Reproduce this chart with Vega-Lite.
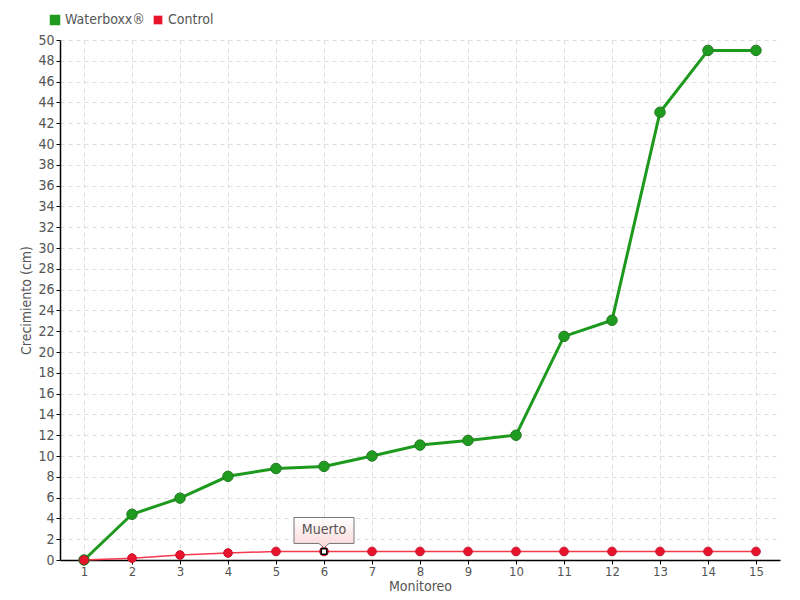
{
  "$schema": "https://vega.github.io/schema/vega-lite/v6.json",
  "width": 720,
  "height": 520,
  "autosize": {"type": "none"},
  "padding": {"left": 60, "top": 40, "right": 20, "bottom": 40},
  "background": "white",
  "config": {
    "font": "DejaVu Sans Condensed, Liberation Sans Narrow, sans-serif",
    "view": {"stroke": null},
    "axis": {
      "labelFontSize": 14,
      "labelColor": "#555555",
      "titleFontSize": 14,
      "titleFontWeight": "normal",
      "titleColor": "#555555",
      "domainColor": "#000000",
      "domainWidth": 1.5,
      "tickColor": "#000000",
      "tickSize": 4,
      "gridColor": "#dddddd",
      "gridDash": [4, 4],
      "gridWidth": 1
    }
  },
  "data": {
    "values": [
      {"m": 1, "serie": "Waterboxx®", "v": 0},
      {"m": 2, "serie": "Waterboxx®", "v": 4.4},
      {"m": 3, "serie": "Waterboxx®", "v": 5.95},
      {"m": 4, "serie": "Waterboxx®", "v": 8.05},
      {"m": 5, "serie": "Waterboxx®", "v": 8.8},
      {"m": 6, "serie": "Waterboxx®", "v": 9.0},
      {"m": 7, "serie": "Waterboxx®", "v": 10.0},
      {"m": 8, "serie": "Waterboxx®", "v": 11.05},
      {"m": 9, "serie": "Waterboxx®", "v": 11.5},
      {"m": 10, "serie": "Waterboxx®", "v": 12.0},
      {"m": 11, "serie": "Waterboxx®", "v": 21.5},
      {"m": 12, "serie": "Waterboxx®", "v": 23.05},
      {"m": 13, "serie": "Waterboxx®", "v": 43.05},
      {"m": 14, "serie": "Waterboxx®", "v": 49.0},
      {"m": 15, "serie": "Waterboxx®", "v": 49.0},
      {"m": 1, "serie": "Control", "v": 0},
      {"m": 2, "serie": "Control", "v": 0.18},
      {"m": 3, "serie": "Control", "v": 0.48},
      {"m": 4, "serie": "Control", "v": 0.67},
      {"m": 5, "serie": "Control", "v": 0.82},
      {"m": 6, "serie": "Control", "v": 0.82, "nota": "Muerto"},
      {"m": 7, "serie": "Control", "v": 0.82},
      {"m": 8, "serie": "Control", "v": 0.82},
      {"m": 9, "serie": "Control", "v": 0.82},
      {"m": 10, "serie": "Control", "v": 0.82},
      {"m": 11, "serie": "Control", "v": 0.82},
      {"m": 12, "serie": "Control", "v": 0.82},
      {"m": 13, "serie": "Control", "v": 0.82},
      {"m": 14, "serie": "Control", "v": 0.82},
      {"m": 15, "serie": "Control", "v": 0.82}
    ]
  },
  "encoding": {
    "x": {
      "field": "m",
      "type": "ordinal",
      "scale": {"type": "point", "padding": 0.5},
      "axis": {"title": "Monitoreo", "labelAngle": 0, "grid": true, "titlePadding": 1, "labelPadding": 1, "labelFontSize": 13}
    },
    "y": {
      "field": "v",
      "type": "quantitative",
      "scale": {"domain": [0, 50], "nice": false},
      "axis": {"title": "Crecimiento (cm)", "values": [0,2,4,6,8,10,12,14,16,18,20,22,24,26,28,30,32,34,36,38,40,42,44,46,48,50], "grid": true, "titlePadding": 4, "labelPadding": 2}
    }
  },
  "layer": [
    {
      "mark": {"type": "line", "strokeWidth": 1.5},
      "transform": [{"filter": "datum.serie == 'Control'"}],
      "encoding": {"color": {"value": "#f5394f"}}
    },
    {
      "mark": {"type": "line", "strokeWidth": 3},
      "transform": [{"filter": "datum.serie == 'Waterboxx®'"}],
      "encoding": {"color": {"value": "#1d9a1d"}}
    },
    {
      "mark": {"type": "point", "filled": true, "shape": "circle", "opacity": 1, "strokeWidth": 1},
      "encoding": {
        "color": {
          "field": "serie",
          "type": "nominal",
          "scale": {"domain": ["Waterboxx®", "Control"], "range": ["#1f9c1f", "#e8142c"]},
          "legend": {
            "title": null,
            "orient": "none",
            "direction": "horizontal",
            "legendX": -12,
            "legendY": -27,
            "symbolType": "square",
            "symbolSize": 30,
            "symbolStrokeWidth": 0,
            "labelFontSize": 14,
            "labelColor": "#555555",
            "columnPadding": 6,
            "symbolOffset": 0,
            "labelOffset": 3
          }
        },
        "size": {
          "field": "serie",
          "type": "nominal",
          "scale": {"domain": ["Waterboxx®", "Control"], "range": [110, 75]},
          "legend": null
        },
        "stroke": {
          "field": "serie",
          "type": "nominal",
          "scale": {"domain": ["Waterboxx®", "Control"], "range": ["#237a23", "#c8102a"]},
          "legend": null
        }
      }
    },
    {
      "mark": {
        "type": "point",
        "filled": true,
        "opacity": 1,
        "shape": "M-1,-1.133 L1,-1.133 L1,-0.267 L0.17,-0.267 L0,-0.12 L-0.17,-0.267 L-1,-0.267 Z",
        "size": 3600,
        "stroke": "#777777",
        "strokeWidth": 1,
        "fill": {
          "gradient": "linear",
          "x1": 0, "y1": 0, "x2": 0, "y2": 1,
          "stops": [{"offset": 0, "color": "#ffffff"}, {"offset": 1, "color": "#fbd6d6"}]
        }
      },
      "transform": [{"filter": "datum.nota"}],
      "encoding": {}
    },
    {
      "mark": {"type": "text", "fontSize": 14, "color": "#555555", "yOffset": -21},
      "transform": [{"filter": "datum.nota"}],
      "encoding": {"text": {"field": "nota"}}
    },
    {
      "mark": {"type": "point", "shape": "square", "filled": true, "fill": "white", "stroke": "black", "strokeWidth": 1.5, "size": 30, "opacity": 1},
      "transform": [{"filter": "datum.nota"}],
      "encoding": {}
    }
  ]
}
